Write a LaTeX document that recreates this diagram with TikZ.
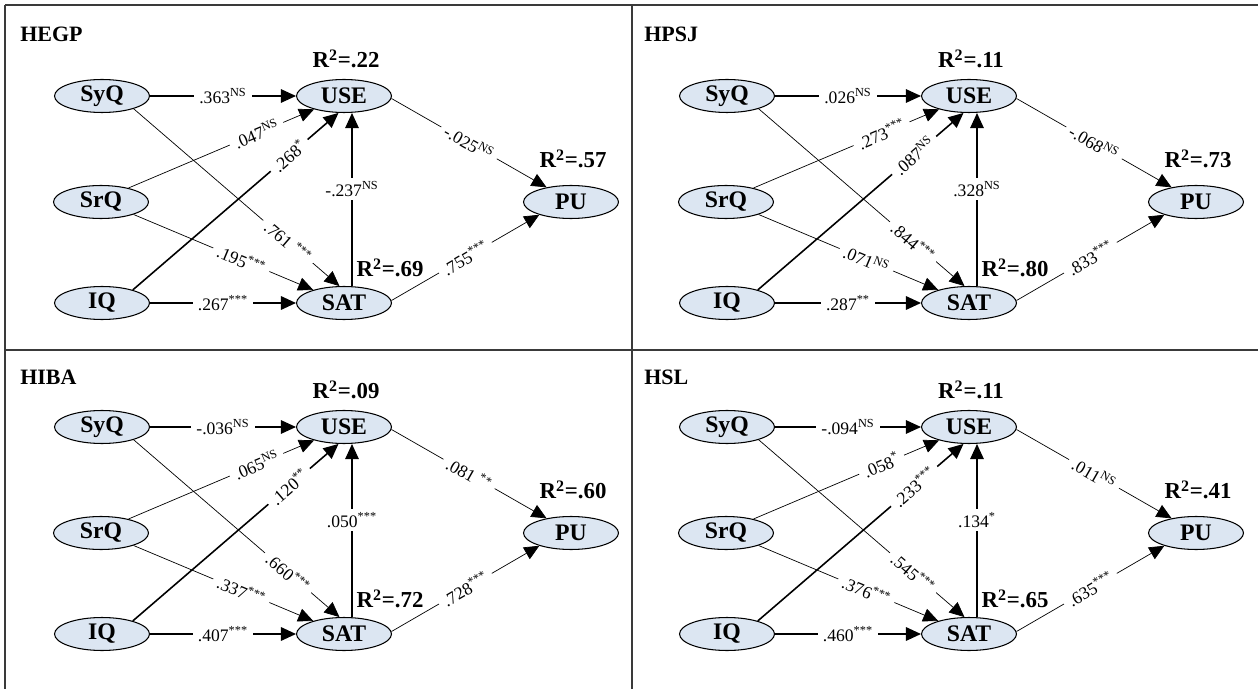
\documentclass[tikz,border=0pt]{standalone}
\usepackage{fontspec}
\setmainfont{Liberation Serif}
\usepackage{tikz}
\usetikzlibrary{arrows.meta,shapes.geometric}
\definecolor{latentfill}{HTML}{DCE6F2}
\definecolor{framegray}{HTML}{3A3A3A}

\tikzset{
  latent/.style={ellipse,draw=black,line width=0.6pt,fill=latentfill,
                 minimum width=1.9cm,minimum height=0.66cm,inner sep=0pt,
                 font=\fontsize{13.5}{15}\selectfont\bfseries},
  path thin/.style={-{Triangle[length=0.3cm,width=0.27cm]},line width=0.4pt},
  path mid/.style={-{Triangle[length=0.3cm,width=0.27cm]},line width=0.6pt},
  path thick/.style={-{Triangle[length=0.3cm,width=0.27cm]},line width=0.9pt},
  coef/.style={fill=white,inner xsep=3pt,inner ysep=2pt,font=\fontsize{10}{11}\selectfont},
  rsq/.style={font=\fontsize{13}{15}\selectfont\bfseries},
  paneltitle/.style={anchor=west,inner sep=0pt,font=\fontsize{12.5}{14}\selectfont\bfseries},
  frameline/.style={draw=framegray,line width=0.75pt}
}

\newcommand{\semmodel}[9]{%
  \node[latent] (SyQ) at (102,96) {SyQ};
  \node[latent] (SrQ) at (101,202) {SrQ};
  \node[latent] (IQ) at (102,303) {IQ};
  \node[latent] (USE) at (344,96) {USE};
  \node[latent] (SAT) at (344,303) {SAT};
  \node[latent] (PU) at (571,202) {PU};
  \draw[path mid] (SyQ) -- node[coef]{#1} (USE);
  \draw[path thin] (SrQ.27) -- node[coef,sloped,pos=0.69]{#2} (USE.204);
  \draw[path thick] (IQ.23) -- node[coef,sloped,pos=0.76]{#3} (USE.252);
  \draw[path thin] (SyQ.-22) -- node[coef,sloped,pos=0.75]{#4} (SAT.105);
  \draw[path thin] (SrQ.-21) -- node[coef,sloped,pos=0.6]{#5} (SAT.157);
  \draw[path thick] (IQ) -- node[coef]{#6} (SAT);
  \draw[path mid] ([xshift=0.16cm]SAT.north) -- node[coef,pos=0.56]{#7} ([xshift=0.16cm]USE.south);
  \draw[path thin] (USE.-3) -- node[coef,sloped]{#8} (PU.149);
  \draw[path thin] (SAT.3) -- node[coef,sloped]{#9} (PU.202);
}

\begin{document}
\begin{tikzpicture}[x=0.02cm,y=-0.02cm]
  \useasboundingbox (0,0) rectangle (1258,689);
  \draw[frameline] (5,5) -- (1258,5);
  \draw[frameline] (5,5) -- (5,689);
  \draw[frameline] (632,5) -- (632,689);
  \draw[frameline] (5,350) -- (1258,350);

  \node[paneltitle] (hegp) at (20,34) {HEGP};
  \node[paneltitle] (hpsj) at (644,34) {HPSJ};
  \node[paneltitle] (hiba) at (20,377) {HIBA};
  \node[paneltitle] (hsl) at (644,377) {HSL};

  \begin{scope}[name prefix=hegp-]
    \semmodel{.363\textsuperscript{NS}}{.047\textsuperscript{NS}}{.268\textsuperscript{*}}
             {.761 \textsuperscript{***}}{.195\textsuperscript{***}}{.267\textsuperscript{***}}
             {-.237\textsuperscript{NS}}{-.025\textsuperscript{NS}}{.755\textsuperscript{***}}
    \node[rsq] (r2use) at (346,59) {R\textsuperscript{2}=.22};
    \node[rsq] (r2pu) at (573,159) {R\textsuperscript{2}=.57};
    \node[rsq] (r2sat) at (390,268) {R\textsuperscript{2}=.69};
  \end{scope}

  \begin{scope}[shift={(625,0)},name prefix=hpsj-]
    \semmodel{.026\textsuperscript{NS}}{.273\textsuperscript{***}}{.087\textsuperscript{NS}}
             {.844\textsuperscript{***}}{.071\textsuperscript{NS}}{.287\textsuperscript{**}}
             {.328\textsuperscript{NS}}{-.068\textsuperscript{NS}}{.833\textsuperscript{***}}
    \node[rsq] (r2use) at (346,59) {R\textsuperscript{2}=.11};
    \node[rsq] (r2pu) at (573,159) {R\textsuperscript{2}=.73};
    \node[rsq] (r2sat) at (390,268) {R\textsuperscript{2}=.80};
  \end{scope}

  \begin{scope}[shift={(0,331)},name prefix=hiba-]
    \semmodel{-.036\textsuperscript{NS}}{.065\textsuperscript{NS}}{.120\textsuperscript{**}}
             {.660\textsuperscript{***}}{.337\textsuperscript{***}}{.407\textsuperscript{***}}
             {.050\textsuperscript{***}}{.081 \textsuperscript{**}}{.728\textsuperscript{***}}
    \node[rsq] (r2use) at (346,59) {R\textsuperscript{2}=.09};
    \node[rsq] (r2pu) at (573,159) {R\textsuperscript{2}=.60};
    \node[rsq] (r2sat) at (390,268) {R\textsuperscript{2}=.72};
  \end{scope}

  \begin{scope}[shift={(625,331)},name prefix=hsl-]
    \semmodel{-.094\textsuperscript{NS}}{.058\textsuperscript{*}}{.233\textsuperscript{***}}
             {.545\textsuperscript{***}}{.376\textsuperscript{***}}{.460\textsuperscript{***}}
             {.134\textsuperscript{*}}{.011\textsuperscript{NS}}{.635\textsuperscript{***}}
    \node[rsq] (r2use) at (346,59) {R\textsuperscript{2}=.11};
    \node[rsq] (r2pu) at (573,159) {R\textsuperscript{2}=.41};
    \node[rsq] (r2sat) at (390,268) {R\textsuperscript{2}=.65};
  \end{scope}
\end{tikzpicture}
\end{document}
